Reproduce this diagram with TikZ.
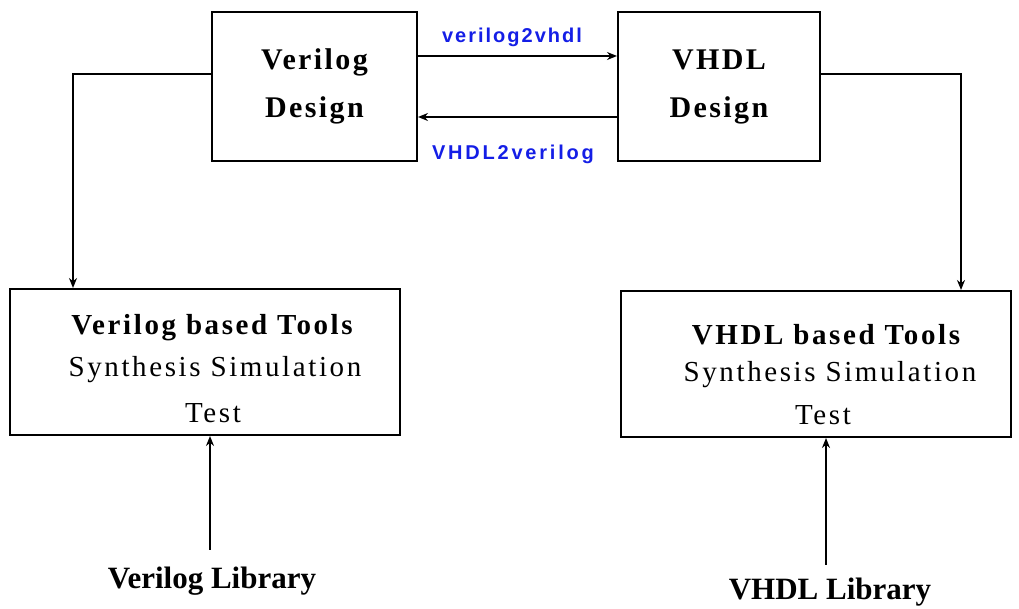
\documentclass[tikz,border=0pt]{standalone}
\usepackage{fontspec}
\setmainfont{Liberation Serif}
\newfontfamily\wideser[LetterSpace=9]{Liberation Serif}
\newfontfamily\designser[LetterSpace=8]{Liberation Serif}
\newfontfamily\labfont[LetterSpace=10]{Liberation Sans}
\newfontfamily\labfontw[LetterSpace=14]{Liberation Sans}
\usetikzlibrary{arrows.meta}
\definecolor{lblue}{RGB}{20,30,230}
\tikzset{
  box/.style={draw=black, line width=2pt, minimum width=#1, inner sep=0pt, align=center},
  conn/.style={line width=1.6pt, -{Stealth[length=10pt,width=8pt]}},
  lab/.style={text=lblue},
  dtext/.style={font=\designser\bfseries\fontsize{30}{48}\selectfont},
  tbold/.style={font=\wideser\bfseries\fontsize{29}{29}\selectfont},
  treg/.style={font=\wideser\fontsize{29}{29}\selectfont},
  lib/.style={font=\bfseries\fontsize{31}{31}\selectfont, inner sep=1pt}
}
\begin{document}
\begin{tikzpicture}[x=1pt,y=-1pt]
\useasboundingbox (0,0) rectangle (1019,609);
\node[box=205pt, minimum height=149pt, dtext] (vd) at (314.5,86.5) {Verilog\\Design};
\node[box=202pt, minimum height=149pt, dtext] (hd) at (719,86.5) {VHDL\\Design};
\node[box=390pt, minimum height=146pt] (vt) at (205,362) {};
\node[box=390pt, minimum height=146pt] (ht) at (816,364) {};
\node[tbold] (vt1) at (212,328) {Verilog based Tools};
\node[treg] (vt2) at (215,370) {Synthesis Simulation};
\node[treg] (vt3) at (213,413) {Test};
\node[tbold] (ht1) at (826,335) {VHDL based Tools};
\node[treg] (ht2) at (830,375) {Synthesis Simulation};
\node[treg] (ht3) at (823,415) {Test};
\node[lib] (vl) at (212,581) {Verilog Library};
\node[lib] (hl) at (830,592) {VHDL Library};
\node[lab, font=\labfont\bfseries\fontsize{20}{20}\selectfont] (l1) at (512,37) {verilog2vhdl};
\node[lab, font=\labfontw\bfseries\fontsize{20}{20}\selectfont] (l2) at (513,154) {VHDL2verilog};
\draw[conn] ([yshift=30.5pt]vd.east) -- ([yshift=30.5pt]hd.west);
\draw[conn] ([yshift=-30.5pt]hd.west) -- ([yshift=-30.5pt]vd.east);
\draw[conn] ([yshift=12.5pt]vd.west) -| ([xshift=-132pt]vt.north);
\draw[conn] ([yshift=12.5pt]hd.east) -| ([xshift=145pt]ht.north);
\draw[conn] ([xshift=-2pt,yshift=16pt]vl.north) -- ([xshift=-2pt]vl.north |- vt.south);
\draw[conn] ([xshift=-4pt,yshift=12pt]hl.north) -- ([xshift=-4pt]hl.north |- ht.south);
\end{tikzpicture}
\end{document}
